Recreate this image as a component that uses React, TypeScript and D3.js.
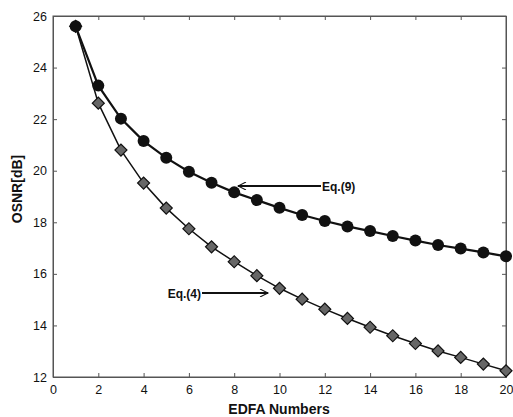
import React, { useRef, useEffect } from "react";
import * as d3 from "d3";

const edfa = [1, 2, 3, 4, 5, 6, 7, 8, 9, 10, 11, 12, 13, 14, 15, 16, 17, 18, 19, 20];
const osnrEq9 = [25.6, 23.3, 22.02, 21.15, 20.5, 19.96, 19.53, 19.16, 18.86, 18.56, 18.28, 18.05, 17.84, 17.66, 17.47, 17.29, 17.12, 16.98, 16.83, 16.68];
const osnrEq4 = [25.6, 22.62, 20.8, 19.52, 18.55, 17.75, 17.05, 16.47, 15.93, 15.44, 15.02, 14.63, 14.27, 13.93, 13.6, 13.3, 13.01, 12.76, 12.5, 12.24];
const xTicks = [0, 2, 4, 6, 8, 10, 12, 14, 16, 18, 20];
const yTicks = [12, 14, 16, 18, 20, 22, 24, 26];

const App = () => {
  const svgRef = useRef<SVGSVGElement>(null);

  useEffect(() => {
    const svg = d3.select(svgRef.current);
    svg.selectAll("*").remove();

    const left = 53, right = 506, top = 16, bottom = 377;
    const x = d3.scaleLinear().domain([0, 20]).range([left, right]);
    const y = d3.scaleLinear().domain([12, 26]).range([bottom, top]);
    const font = "Arial, 'Liberation Sans', sans-serif";

    svg
      .append("defs")
      .append("marker")
      .attr("id", "arrow")
      .attr("viewBox", "0 0 10 10")
      .attr("refX", 10)
      .attr("refY", 5)
      .attr("markerWidth", 11)
      .attr("markerHeight", 8)
      .attr("markerUnits", "userSpaceOnUse")
      .attr("orient", "auto")
      .append("path")
      .attr("d", "M0,0 L10,5 L0,10")
      .attr("fill", "none")
      .attr("stroke", "#111")
      .attr("stroke-width", 1.3);

    // frame
    svg
      .append("rect")
      .attr("x", left)
      .attr("y", top)
      .attr("width", right - left)
      .attr("height", bottom - top)
      .attr("fill", "none")
      .attr("stroke", "#555")
      .attr("stroke-width", 1);

    const xAxis = d3.axisBottom(x).tickValues(xTicks).tickSizeInner(-4).tickSizeOuter(0).tickPadding(8);
    const gx = svg.append("g").attr("transform", `translate(0,${bottom})`).call(xAxis);
    const xTop = d3.axisTop(x).tickValues(xTicks).tickSizeInner(-4).tickSizeOuter(0).tickFormat(() => "");
    svg.append("g").attr("transform", `translate(0,${top})`).call(xTop);

    const yAxis = d3.axisLeft(y).tickValues(yTicks).tickSizeInner(-4).tickSizeOuter(0).tickPadding(6);
    const gy = svg.append("g").attr("transform", `translate(${left},0)`).call(yAxis);
    const yRight = d3.axisRight(y).tickValues(yTicks).tickSizeInner(-4).tickSizeOuter(0).tickFormat(() => "");
    svg.append("g").attr("transform", `translate(${right},0)`).call(yRight);

    svg.selectAll(".domain").attr("stroke", "#555");
    svg.selectAll(".tick line").attr("stroke", "#555");
    [gx, gy].forEach((g) =>
      g.selectAll("text").attr("font-size", 12.5).attr("font-family", font).attr("fill", "#111")
    );

    const line = d3
      .line<number>()
      .x((_, i) => x(edfa[i]))
      .y((d) => y(d));

    svg.append("path").datum(osnrEq4).attr("d", line).attr("fill", "none").attr("stroke", "#111").attr("stroke-width", 1.5);
    svg.append("path").datum(osnrEq9).attr("d", line).attr("fill", "none").attr("stroke", "#111").attr("stroke-width", 2.2);

    svg
      .selectAll(".dia")
      .data(osnrEq4)
      .enter()
      .append("path")
      .attr("class", "dia")
      .attr("d", d3.symbol(d3.symbolSquare, 72))
      .attr("transform", (d, i) => `translate(${x(edfa[i])},${y(d)}) rotate(45)`)
      .attr("fill", "#666")
      .attr("stroke", "#111")
      .attr("stroke-width", 1.2);

    svg
      .selectAll(".dot")
      .data(osnrEq9)
      .enter()
      .append("circle")
      .attr("class", "dot")
      .attr("cx", (_, i) => x(edfa[i]))
      .attr("cy", (d) => y(d))
      .attr("r", 6)
      .attr("fill", "#111");

    // annotations
    svg
      .append("line")
      .attr("x1", 321)
      .attr("y1", 186)
      .attr("x2", 238)
      .attr("y2", 186)
      .attr("stroke", "#111")
      .attr("stroke-width", 1.8)
      .attr("marker-end", "url(#arrow)");
    svg
      .append("text")
      .attr("x", 322)
      .attr("y", 190.5)
      .attr("font-family", font)
      .attr("font-weight", "bold")
      .attr("font-size", 12)
      .attr("fill", "#111")
      .text("Eq.(9)");

    svg
      .append("line")
      .attr("x1", 202)
      .attr("y1", 293)
      .attr("x2", 268)
      .attr("y2", 293)
      .attr("stroke", "#111")
      .attr("stroke-width", 1.8)
      .attr("marker-end", "url(#arrow)");
    svg
      .append("text")
      .attr("x", 201)
      .attr("y", 297.5)
      .attr("text-anchor", "end")
      .attr("font-family", font)
      .attr("font-weight", "bold")
      .attr("font-size", 12)
      .attr("fill", "#111")
      .text("Eq.(4)");

    svg
      .append("text")
      .attr("x", 279)
      .attr("y", 414)
      .attr("text-anchor", "middle")
      .attr("font-family", font)
      .attr("font-weight", "bold")
      .attr("font-size", 14)
      .attr("fill", "#111")
      .text("EDFA Numbers");

    svg
      .append("text")
      .attr("transform", "translate(22,189) rotate(-90)")
      .attr("text-anchor", "middle")
      .attr("font-family", font)
      .attr("font-weight", "bold")
      .attr("font-size", 14)
      .attr("fill", "#111")
      .text("OSNR[dB]");
  }, []);

  return (
    <svg
      ref={svgRef}
      width={513}
      height={417}
      style={{ position: "absolute", left: 0, top: 0, background: "#fff" }}
    />
  );
};

export default App;
